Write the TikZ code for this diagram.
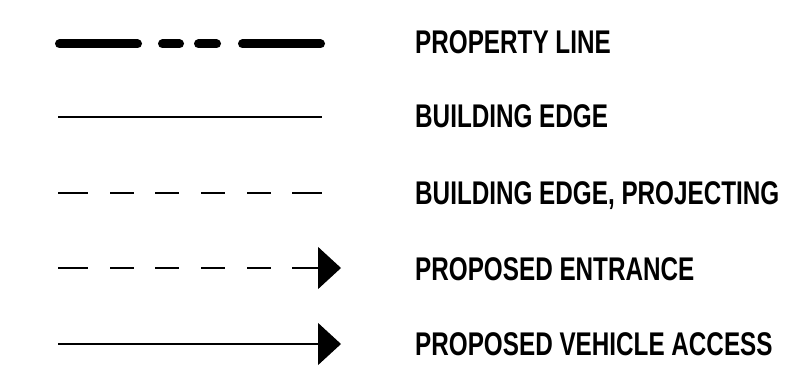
\documentclass[tikz,border=0pt]{standalone}
\usepackage{fontspec}
\setmainfont{Liberation Sans}[FakeStretch=0.74]
\usetikzlibrary{arrows.meta}

\tikzset{
  lbl/.style={anchor=base west,inner sep=0pt,font=\fontsize{32.8}{36}\selectfont\bfseries},
  propline/.style={line width=9pt,line cap=round,dash pattern=on 78pt off 25pt on 17pt off 19pt on 18pt off 26pt on 78pt off 0pt},
  edgeline/.style={line width=1.1pt},
  projline/.style={line width=1.3pt,dash pattern=on 30pt off 22pt on 24pt off 21pt on 24pt off 22pt on 24pt off 22pt on 24pt off 21pt on 60pt off 0pt},
  bigtip/.style={-{Triangle[length=23pt,width=42pt]}}
}

\begin{document}
\begin{tikzpicture}[x=1pt,y=-1pt]
    \useasboundingbox (0,0) rectangle (789,369);
    % legend symbols
    \coordinate (prop-a) at (59.5,44);
    \coordinate (prop-b) at (320.5,44);
    \coordinate (edge-a) at (58,117);
    \coordinate (edge-b) at (322,117);
    \coordinate (proj-a) at (58,193);
    \coordinate (proj-b) at (322,193);
    \coordinate (entr-a) at (58,268);
    \coordinate (entr-b) at (341,268);
    \coordinate (veh-a) at (58,344);
    \coordinate (veh-b) at (341,344);
    \draw[propline] (prop-a) -- (prop-b);
    \draw[edgeline] (edge-a) -- (edge-b);
    \draw[projline] (proj-a) -- (proj-b);
    \draw[projline,bigtip] (entr-a) -- (entr-b);
    \draw[edgeline,bigtip] (veh-a) -- (veh-b);
    % legend texts
    \node[lbl] (prop) at (415,53) {PROPERTY LINE};
    \node[lbl] (edge) at (415,127) {BUILDING EDGE};
    \node[lbl] (proj) at (415,204) {BUILDING EDGE, PROJECTING};
    \node[lbl] (entr) at (415,280) {PROPOSED ENTRANCE};
    \node[lbl] (veh) at (415,355) {PROPOSED VEHICLE ACCESS};
\end{tikzpicture}
\end{document}
